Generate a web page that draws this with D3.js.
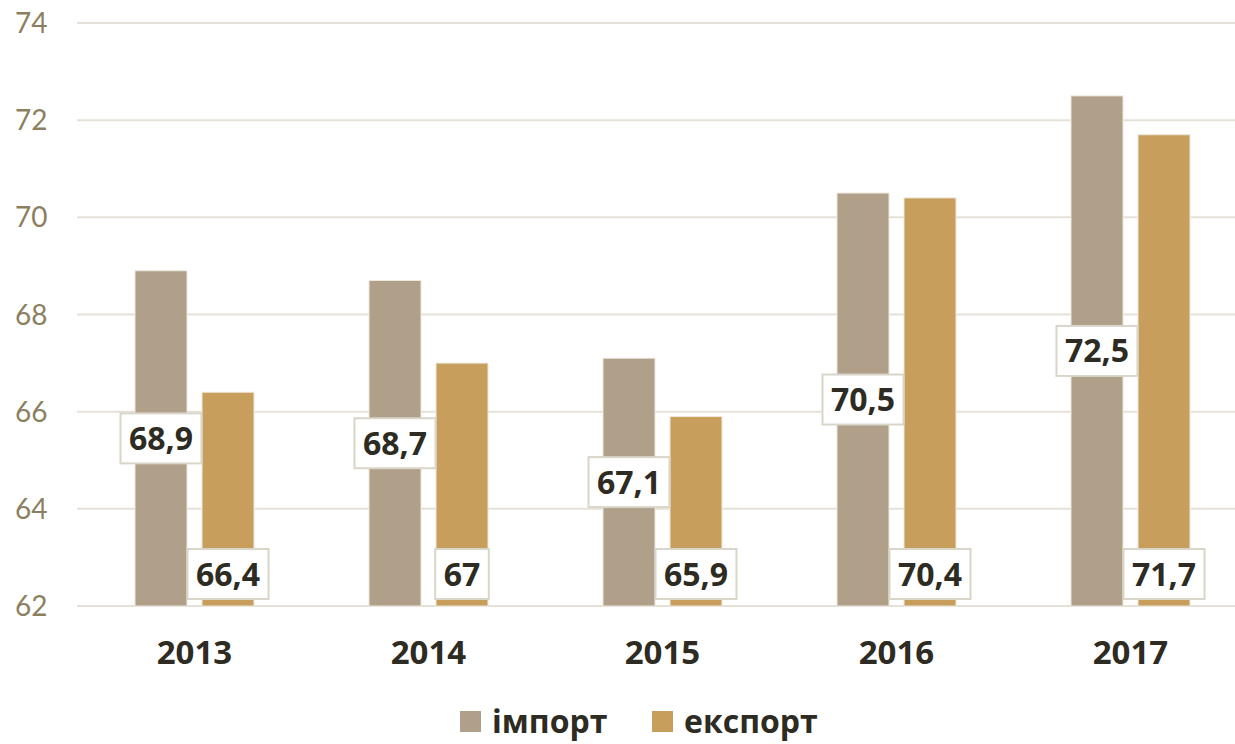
<!DOCTYPE html>
<html>
<head>
<meta charset="utf-8">
<script src="https://cdn.jsdelivr.net/npm/d3@7"></script>
<style>
  body { margin: 0; background: #fff; }
  .tick-label { font-family: Lato, "Open Sans", sans-serif; font-size: 28px; fill: #8c7f5f; }
  .year-label { font-family: "Open Sans", sans-serif; font-weight: 700; font-size: 33px; fill: #2d2b22; }
  .value-label { font-family: "Open Sans", sans-serif; font-weight: 700; font-size: 32px; fill: #2d2b22; }
  .legend-label { font-family: "Open Sans", sans-serif; font-weight: 700; font-size: 32px; fill: #2d2b22; }
</style>
</head>
<body>
<div id="chart"></div>
<script>
var years = ["2013", "2014", "2015", "2016", "2017"];
var importValues = [68.9, 68.7, 67.1, 70.5, 72.5];
var exportValues = [66.4, 67, 65.9, 70.4, 71.7];
var seriesNames = ["імпорт", "експорт"];
var seriesColors = ["#b09f89", "#c89e5c"];
var yTicks = [62, 64, 66, 68, 70, 72, 74];

var width = 1235, height = 744;
var margin = { top: 23, left: 77, bottom: 138 };

var svg = d3.select("#chart").append("svg")
    .attr("width", width)
    .attr("height", height);

var x = d3.scaleBand()
    .domain(years)
    .range([margin.left + 0.5, margin.left + 0.5 + 234 * 5])
    .paddingInner(0)
    .paddingOuter(0);

var y = d3.scaleLinear()
    .domain([62, 74])
    .range([height - margin.bottom, margin.top]);

// gridlines
svg.append("g").selectAll("line")
    .data(yTicks)
    .enter().append("line")
    .attr("x1", margin.left)
    .attr("x2", width)
    .attr("y1", function(d) { return y(d); })
    .attr("y2", function(d) { return y(d); })
    .attr("stroke", "#e6e1d8")
    .attr("stroke-width", 2);

svg.append("g").selectAll("text")
    .data(yTicks)
    .enter().append("text")
    .attr("class", "tick-label")
    .attr("x", 15)
    .attr("y", function(d) { return y(d) + 10; })
    .text(function(d) { return d; });

var barW = 52, gap = 15;
var data = [];
years.forEach(function(yr, i) {
    data.push({ year: yr, s: 0, value: importValues[i] });
    data.push({ year: yr, s: 1, value: exportValues[i] });
});

function barX(d) {
    var c = x(d.year) + x.bandwidth() / 2;
    return d.s === 0 ? c - gap / 2 - barW : c + gap / 2;
}

svg.append("g").selectAll("rect")
    .data(data)
    .enter().append("rect")
    .attr("x", barX)
    .attr("y", function(d) { return y(d.value); })
    .attr("width", barW)
    .attr("height", function(d) { return y(62) - y(d.value); })
    .attr("fill", function(d) { return seriesColors[d.s]; })
    .attr("stroke", "#ede8df")
    .attr("stroke-width", 1);

// value labels: import in the middle of the bar, export at its base
var fmt = function(v) { return String(v).replace(".", ","); };
var labels = svg.append("g").selectAll("g")
    .data(data)
    .enter().append("g")
    .attr("transform", function(d) {
        var cx = barX(d) + barW / 2;
        var cy = d.s === 0 ? (y(d.value) + y(62)) / 2 : y(62) - 32;
        return "translate(" + cx + "," + cy + ")";
    });

labels.append("text")
    .attr("class", "value-label")
    .attr("text-anchor", "middle")
    .attr("dy", "0.36em")
    .text(function(d) { return fmt(d.value); });

labels.each(function() {
    var g = d3.select(this);
    var bb = g.select("text").node().getBBox();
    var padX = 8.5;
    g.insert("rect", "text")
        .attr("x", bb.x - padX)
        .attr("y", -25)
        .attr("width", bb.width + padX * 2)
        .attr("height", 50)
        .attr("fill", "#fff")
        .attr("stroke", "#d9d5c9")
        .attr("stroke-width", 2);
});

// year labels
svg.append("g").selectAll("text")
    .data(years)
    .enter().append("text")
    .attr("class", "year-label")
    .attr("text-anchor", "middle")
    .attr("x", function(d) { return x(d) + x.bandwidth() / 2; })
    .attr("y", 664)
    .text(function(d) { return d; });

// legend
var legendX = [460, 652];
var legend = svg.append("g").selectAll("g")
    .data(seriesNames)
    .enter().append("g")
    .attr("transform", function(d, i) { return "translate(" + legendX[i] + ",711)"; });

legend.append("rect")
    .attr("width", 21)
    .attr("height", 21)
    .attr("fill", function(d, i) { return seriesColors[i]; });

legend.append("text")
    .attr("class", "legend-label")
    .attr("x", 32)
    .attr("y", 22)
    .text(function(d) { return d; });
</script>
</body>
</html>
